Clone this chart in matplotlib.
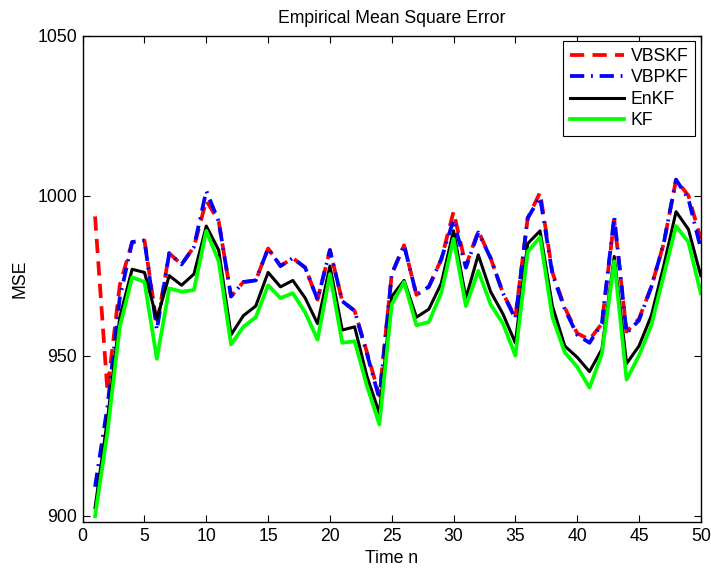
import numpy as np
import matplotlib
matplotlib.use('Agg')
import matplotlib.pyplot as plt

# Время и значения MSE для каждого фильтра
time_n = list(range(1, 51))

mse_vbskf = [993.5, 939.0, 972.0, 985.5, 986.0, 959.5, 982.0, 978.5, 984.0, 998.5,
             992.0, 968.5, 973.0, 973.5, 983.5, 978.0, 980.5, 977.5, 967.5, 983.0,
             967.0, 964.0, 951.0, 937.5, 975.5, 984.5, 969.0, 971.5, 980.0, 995.0,
             978.0, 989.0, 980.5, 969.5, 962.0, 993.0, 1001.0, 976.0, 965.0, 957.0,
             955.0, 960.0, 992.5, 957.5, 961.5, 971.5, 985.0, 1005.0, 1000.0, 986.5]

mse_vbpkf = [909.0, 934.0, 968.0, 985.5, 986.0, 958.0, 982.0, 978.5, 984.0, 1001.5,
             992.0, 968.5, 973.0, 973.5, 983.5, 978.0, 980.5, 977.5, 967.5, 983.0,
             967.0, 964.0, 950.5, 936.5, 975.5, 984.5, 969.0, 971.5, 980.0, 992.5,
             977.5, 988.5, 980.5, 969.5, 961.5, 993.0, 999.5, 975.5, 964.5, 956.5,
             954.0, 960.0, 993.5, 957.0, 961.0, 971.5, 985.0, 1005.0, 999.0, 983.5]

mse_enkf = [902.5, 930.0, 962.0, 977.0, 976.0, 961.5, 975.0, 972.0, 975.5, 990.5,
            983.0, 956.5, 962.5, 965.5, 976.0, 971.5, 973.5, 968.0, 960.0, 978.0,
            958.0, 959.0, 943.5, 932.0, 968.5, 973.5, 962.0, 964.5, 972.5, 989.0,
            968.0, 981.5, 970.0, 963.0, 954.0, 985.0, 989.0, 965.5, 953.0, 949.5,
            945.0, 952.0, 981.0, 947.5, 953.0, 962.5, 978.0, 995.0, 989.5, 975.0]

mse_kf = [899.8, 926.0, 959.0, 974.5, 973.0, 949.0, 971.0, 970.0, 970.5, 989.0,
          979.5, 953.5, 959.0, 962.0, 972.0, 968.0, 969.5, 963.5, 955.0, 975.5,
          954.0, 954.5, 940.5, 928.5, 966.0, 973.0, 959.5, 960.5, 969.5, 986.5,
          965.5, 976.5, 966.0, 960.0, 950.0, 982.5, 987.0, 962.0, 951.0, 946.5,
          940.0, 950.5, 979.5, 942.5, 950.0, 959.5, 975.0, 990.5, 985.5, 969.5]

FS = 12.7
plt.rcParams['font.family'] = ['Liberation Sans', 'DejaVu Sans']
plt.rcParams['font.size'] = FS

fig = plt.figure(figsize=(7.11, 5.69), dpi=100)
ax = fig.add_axes([0.1163, 0.0826, 0.8693, 0.8547])

ax.plot(time_n, mse_vbskf, color='red', lw=2.7, dashes=(3.8, 2.2), label='VBSKF')
ax.plot(time_n, mse_vbpkf, color='blue', lw=2.7, dashes=(3.8, 1.8, 0.5, 1.8), label='VBPKF')
ax.plot(time_n, mse_enkf, color='black', lw=2.2, label='EnKF')
ax.plot(time_n, mse_kf, color=(0, 1, 0), lw=2.7, label='KF')

ax.set_xlim(0, 50)
ax.set_ylim(898, 1050)
ax.set_xticks(range(0, 51, 5))
ax.set_yticks([900, 950, 1000, 1050])
ax.tick_params(direction='in', top=True, right=True, length=5, width=0.8,
               labelsize=FS, pad=4)
for s in ax.spines.values():
    s.set_linewidth(1.0)

ax.set_title('Empirical Mean Square Error', fontsize=FS, pad=9)
ax.set_xlabel('Time n', fontsize=FS, labelpad=4)
ax.set_ylabel('MSE', fontsize=FS, labelpad=6)

leg = ax.legend(loc='upper right', fontsize=FS, fancybox=False, edgecolor='black',
                framealpha=1, handlelength=3.1, borderaxespad=0.3,
                labelspacing=0.25, handletextpad=0.35, borderpad=0.4)
leg.get_frame().set_linewidth(0.8)

fig.savefig('out.png', dpi=100)
